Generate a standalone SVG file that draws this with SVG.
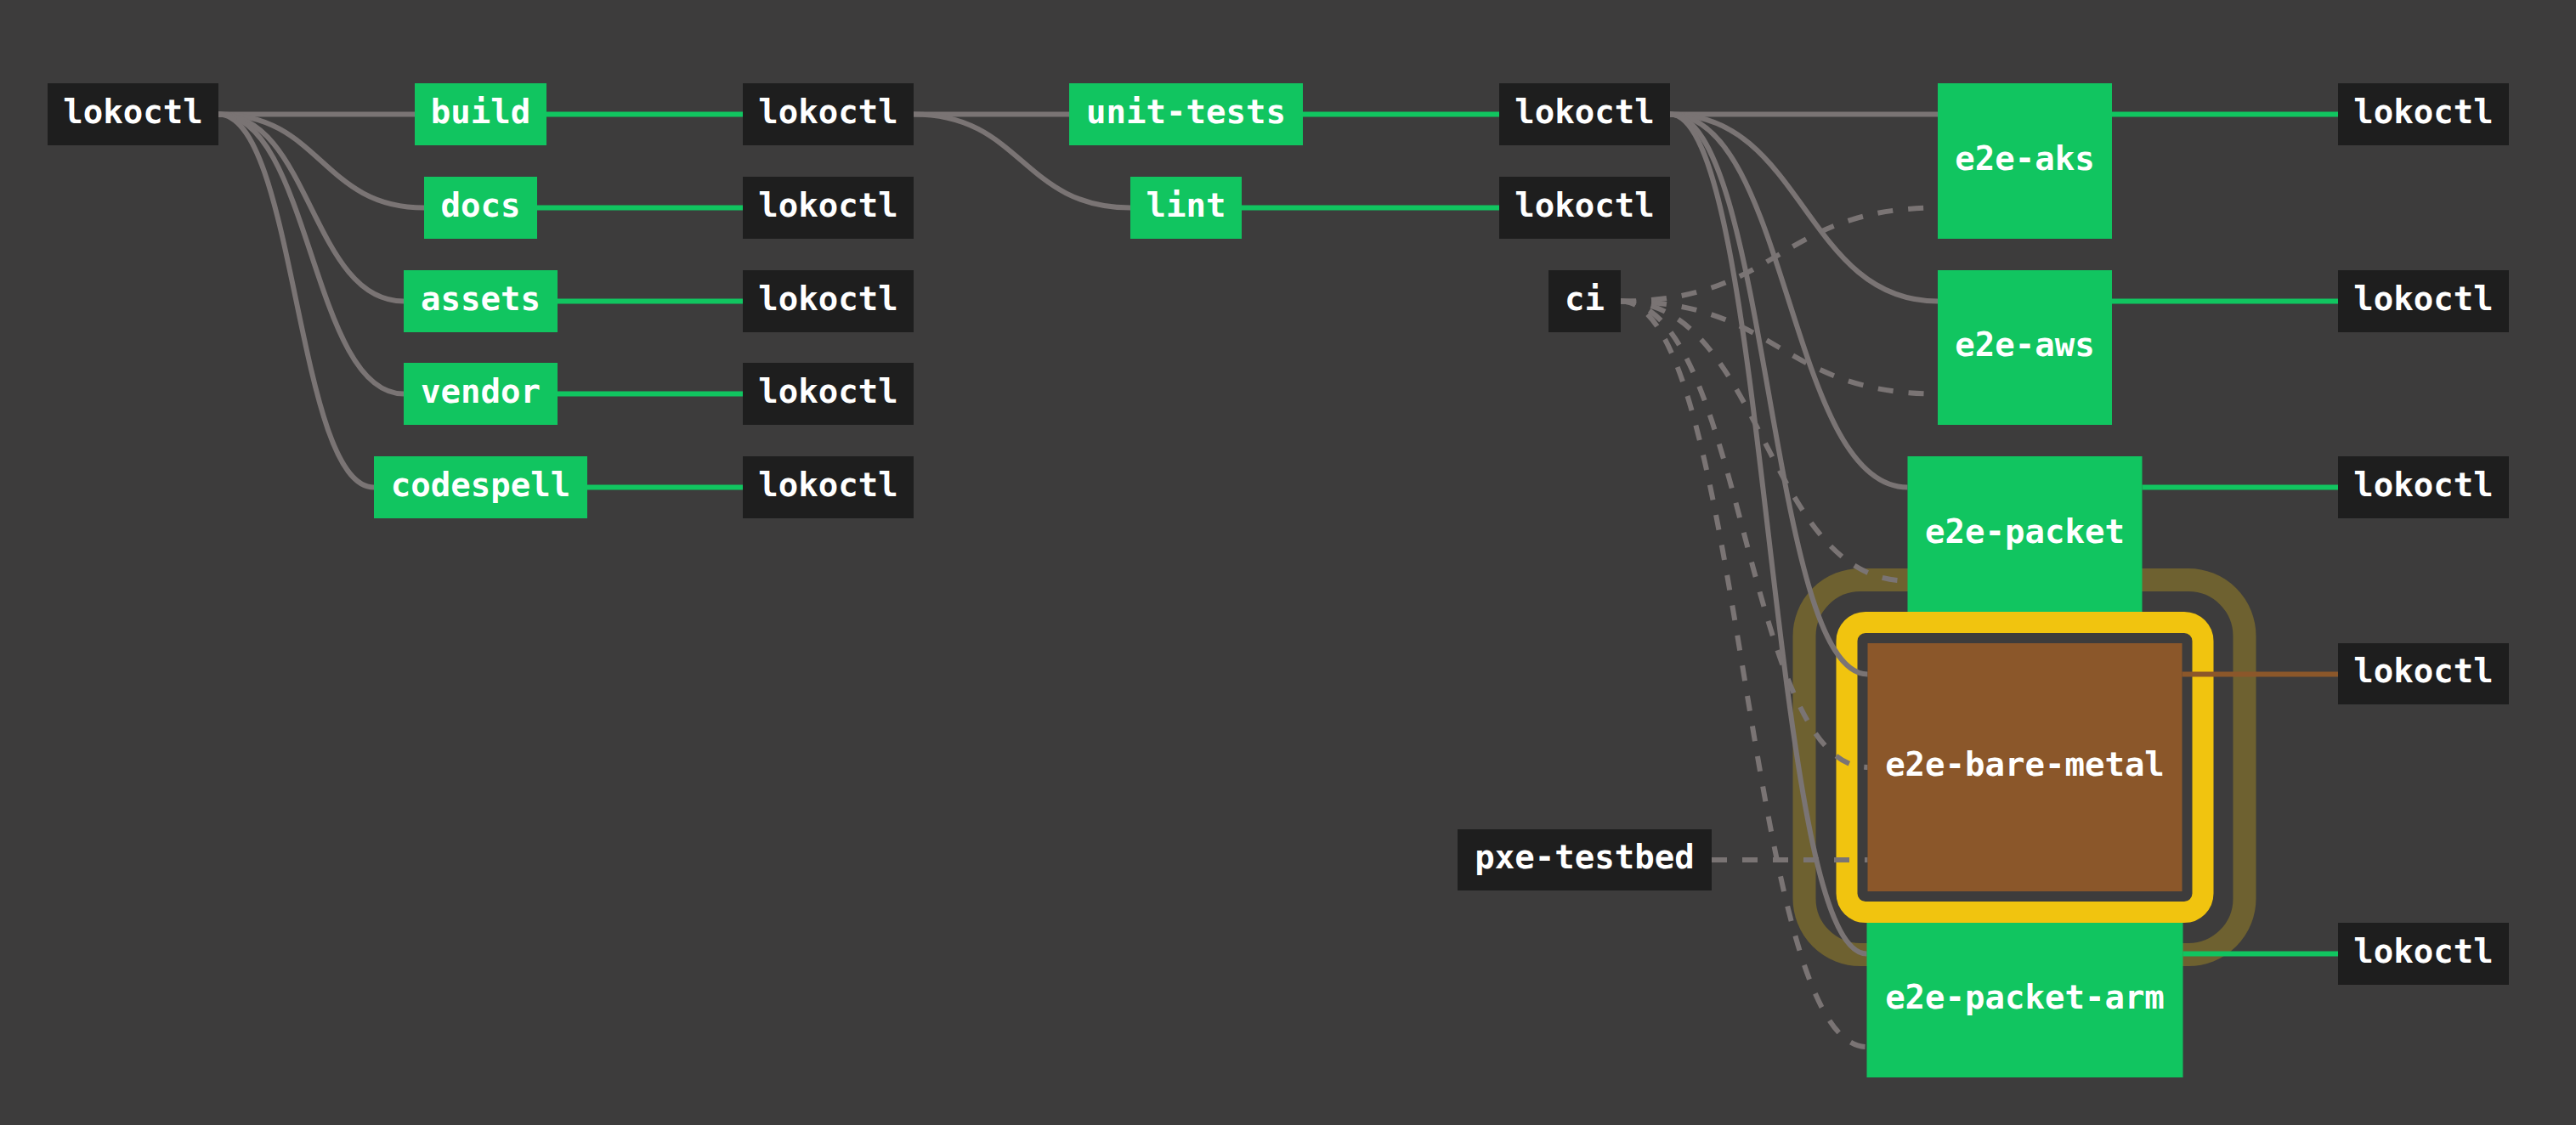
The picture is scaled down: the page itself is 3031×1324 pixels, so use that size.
<svg xmlns="http://www.w3.org/2000/svg" width="3031" height="1324" viewBox="0 0 3031 1324">
<style>
.bg{fill:#3d3c3c}
.res rect{fill:#1e1e1e}
.job rect{fill:#11c560}
.job.aborted rect{fill:#8b572a}
text{font-family:"DejaVu Sans Mono","Liberation Mono",monospace;font-size:39px;font-weight:bold;fill:#ffffff;text-anchor:middle}
.e{fill:none;stroke:#7a7474;stroke-width:6}
.d{stroke-dasharray:18 18}
.g{fill:none;stroke:#11c560;stroke-width:6}
.b{fill:none;stroke:#8b572a;stroke-width:6}
.ring1{fill:none;stroke:#6e6130;stroke-width:27}
.ring2{fill:none;stroke:#f1c40f;stroke-width:25}
</style>
<rect class="bg" x="0" y="0" width="3031" height="1324"/>
<g id="highlight">
<rect class="ring1" x="2123" y="682.5" width="518" height="441" rx="66" ry="66"/>
<rect class="ring2" x="2173" y="732.5" width="419" height="341" rx="22" ry="22"/>
</g>
<g id="connectors">
<path class="e" d="M257 134.5 H488"/>
<path class="e" d="M257 134.5 C378 134.5 378 244.5 499 244.5"/>
<path class="e" d="M257 134.5 C366 134.5 366 354.5 475 354.5"/>
<path class="e" d="M257 134.5 C366 134.5 366 463.5 475 463.5"/>
<path class="e" d="M257 134.5 C348.5 134.5 348.5 573.5 440 573.5"/>
<path class="g" d="M643 134.5 H874"/>
<path class="g" d="M632 244.5 H874"/>
<path class="g" d="M656 354.5 H874"/>
<path class="g" d="M656 463.5 H874"/>
<path class="g" d="M691 573.5 H874"/>
<path class="e" d="M1075 134.5 H1258"/>
<path class="e" d="M1075 134.5 C1202.5 134.5 1202.5 244.5 1330 244.5"/>
<path class="g" d="M1533 134.5 H1764"/>
<path class="g" d="M1461 244.5 H1764"/>
<path class="e" d="M1965 134.5 H2280"/>
<path class="e" d="M1965 134.5 C2122.5 134.5 2122.5 354.5 2280 354.5"/>
<path class="e" d="M1965 134.5 C2104.75 134.5 2104.75 573.5 2244.5 573.5"/>
<path class="e" d="M1965 134.5 C2081.25 134.5 2081.25 793.5 2197.5 793.5"/>
<path class="e" d="M1965 134.5 C2080.75 134.5 2080.75 1122.5 2196.5 1122.5"/>
<path class="e d" d="M1907 354.5 C2093.5 354.5 2093.5 244.5 2280 244.5"/>
<path class="e d" d="M1907 354.5 C2093.5 354.5 2093.5 463.5 2280 463.5"/>
<path class="e d" d="M1907 354.5 C2075.75 354.5 2075.75 683.5 2244.5 683.5"/>
<path class="e d" d="M1907 354.5 C2052.25 354.5 2052.25 903 2197.5 903"/>
<path class="e d" d="M1907 354.5 C2051.75 354.5 2051.75 1232 2196.5 1232"/>
<path class="e d" d="M2014 1012 H2197.5"/>
<path class="g" d="M2485 134.5 H2751"/>
<path class="g" d="M2485 354.5 H2751"/>
<path class="g" d="M2520.5 573.5 H2751"/>
<path class="b" d="M2567.5 793.5 H2751"/>
<path class="g" d="M2568.5 1122.5 H2751"/>
</g>
<g id="lokoctl-1" class="res"><rect x="56" y="98" width="201" height="73"/><text x="156.5" y="144.5">lokoctl</text></g>
<g id="build" class="job"><rect x="488" y="98" width="155" height="73"/><text x="565.5" y="144.5">build</text></g>
<g id="docs" class="job"><rect x="499" y="208" width="133" height="73"/><text x="565.5" y="254.5">docs</text></g>
<g id="assets" class="job"><rect x="475" y="318" width="181" height="73"/><text x="565.5" y="364.5">assets</text></g>
<g id="vendor" class="job"><rect x="475" y="427" width="181" height="73"/><text x="565.5" y="473.5">vendor</text></g>
<g id="codespell" class="job"><rect x="440" y="537" width="251" height="73"/><text x="565.5" y="583.5">codespell</text></g>
<g id="lokoctl-build" class="res"><rect x="874" y="98" width="201" height="73"/><text x="974.5" y="144.5">lokoctl</text></g>
<g id="lokoctl-docs" class="res"><rect x="874" y="208" width="201" height="73"/><text x="974.5" y="254.5">lokoctl</text></g>
<g id="lokoctl-assets" class="res"><rect x="874" y="318" width="201" height="73"/><text x="974.5" y="364.5">lokoctl</text></g>
<g id="lokoctl-vendor" class="res"><rect x="874" y="427" width="201" height="73"/><text x="974.5" y="473.5">lokoctl</text></g>
<g id="lokoctl-codespell" class="res"><rect x="874" y="537" width="201" height="73"/><text x="974.5" y="583.5">lokoctl</text></g>
<g id="unit-tests" class="job"><rect x="1258" y="98" width="275" height="73"/><text x="1395.5" y="144.5">unit-tests</text></g>
<g id="lint" class="job"><rect x="1330" y="208" width="131" height="73"/><text x="1395.5" y="254.5">lint</text></g>
<g id="lokoctl-unit-tests" class="res"><rect x="1764" y="98" width="201" height="73"/><text x="1864.5" y="144.5">lokoctl</text></g>
<g id="lokoctl-lint" class="res"><rect x="1764" y="208" width="201" height="73"/><text x="1864.5" y="254.5">lokoctl</text></g>
<g id="ci" class="res"><rect x="1822" y="318" width="85" height="73"/><text x="1864.5" y="364.5">ci</text></g>
<g id="pxe-testbed" class="res"><rect x="1715" y="976" width="299" height="72"/><text x="1864.5" y="1022">pxe-testbed</text></g>
<g id="e2e-aks" class="job"><rect x="2280" y="98" width="205" height="183"/><text x="2382.5" y="199.5">e2e-aks</text></g>
<g id="e2e-aws" class="job"><rect x="2280" y="318" width="205" height="182"/><text x="2382.5" y="419">e2e-aws</text></g>
<g id="e2e-packet" class="job"><rect x="2244.5" y="537" width="276" height="183"/><text x="2382.5" y="638.5">e2e-packet</text></g>
<g id="e2e-bare-metal" class="job aborted"><rect x="2197.5" y="757" width="370" height="292"/><text x="2382.5" y="913">e2e-bare-metal</text></g>
<g id="e2e-packet-arm" class="job"><rect x="2196.5" y="1086" width="372" height="182"/><text x="2382.5" y="1187">e2e-packet-arm</text></g>
<g id="lokoctl-e2e-aks" class="res"><rect x="2751" y="98" width="201" height="73"/><text x="2851.5" y="144.5">lokoctl</text></g>
<g id="lokoctl-e2e-aws" class="res"><rect x="2751" y="318" width="201" height="73"/><text x="2851.5" y="364.5">lokoctl</text></g>
<g id="lokoctl-e2e-packet" class="res"><rect x="2751" y="537" width="201" height="73"/><text x="2851.5" y="583.5">lokoctl</text></g>
<g id="lokoctl-e2e-bare-metal" class="res"><rect x="2751" y="757" width="201" height="72"/><text x="2851.5" y="803">lokoctl</text></g>
<g id="lokoctl-e2e-packet-arm" class="res"><rect x="2751" y="1086" width="201" height="73"/><text x="2851.5" y="1132.5">lokoctl</text></g>
</svg>
